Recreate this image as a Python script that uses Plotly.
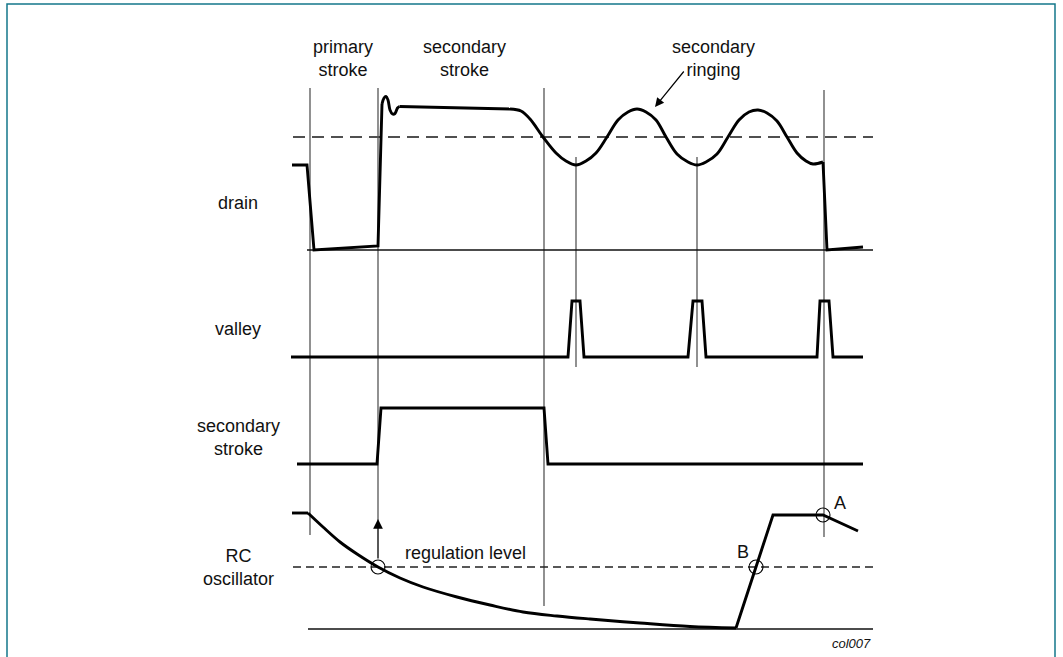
import plotly.graph_objects as go

# ---------------- data (diagram units: horizontal time, vertical level; screen-like) ----------------
# drain waveform pieces
drain_t_fall = [292, 307, 314, 378, 382]
drain_v_fall = [165, 165, 250, 246, 104]
drain_t_over = [382, 384, 386, 388, 390, 392.5, 395, 397.5, 399.5]
drain_v_over = [104, 98, 96.5, 100, 110, 114, 113.5, 108, 106.5]
drain_t_flat = [399.5, 510]
drain_v_flat = [106.5, 109]
drain_t_ring = [510, 521, 530, 543, 556, 566, 576, 586, 596, 607, 618, 628, 637, 646, 656,
                666, 677, 688, 697, 706, 717, 728, 739, 749, 758, 767, 777, 787, 797, 806,
                813, 823]
drain_v_ring = [109, 111, 119, 137, 153, 161, 165, 161, 153, 137, 120, 112, 109, 112, 120,
                137, 154, 162, 165, 162, 154, 137, 120, 112, 110, 113, 121, 137, 153, 161,
                164, 162]
drain_t_end = [823, 827, 863]
drain_v_end = [162, 250, 247]

# valley detector pulses
valley_t = [291, 568, 572, 580, 584, 688, 693, 702, 706, 817, 820, 829, 833, 863]
valley_v = [357, 357, 301, 301, 357, 357, 301, 301, 357, 357, 301, 301, 357, 357]

# secondary stroke signal
sec_t = [297, 377, 381, 544, 548, 863]
sec_v = [464, 464, 408, 408, 464, 464]

# RC oscillator
rc_t_hold = [292, 308]
rc_v_hold = [513, 513]
rc_t_decay = [308, 323, 340, 357, 378, 400, 423, 457, 490, 523, 557, 590, 640, 690, 736]
rc_v_decay = [513, 527, 542, 554, 567, 578, 587, 597, 605, 612, 616, 619, 623, 626.5, 628]
rc_t_charge = [736, 773, 823, 858]
rc_v_charge = [628, 515, 515, 531]

# reference levels
drain_threshold = 137
drain_zero = 250
regulation_level = 567
rc_zero = 629
level_start = 293
level_end = 873

# time markers (vertical cursor lines)
cursor_t = [310, 378, 544, 576, 697, 824]
cursor_top = [88, 88, 88, 157, 157, 90]
cursor_bottom = [535, 522, 606, 367, 367, 537]

# event circles
event_t = [378, 756, 823]
event_v = [567, 567, 515]

# labels
row_labels = ["drain", "valley", "secondary<br>stroke", "RC<br>oscillator"]
row_label_v = [203, 329, 437, 567]
top_labels = ["primary<br>stroke", "secondary<br>stroke", "secondary<br>ringing"]
top_label_t = [343, 464, 713]

# ---------------- figure ----------------
fig = go.Figure()
BLACK = "#000000"
W = 2.9


def line(x, y, shape="linear", width=W, color=BLACK, dash=None):
    fig.add_trace(go.Scatter(
        x=x, y=y, mode="lines", hoverinfo="skip", showlegend=False,
        line=dict(color=color, width=width, shape=shape, dash=dash, smoothing=1.0)))


# cursor lines
cx, cy = [], []
for t, a, b in zip(cursor_t, cursor_top, cursor_bottom):
    cx += [t, t, None]
    cy += [a, b, None]
line(cx, cy, width=1.3, color="#555555")

# reference levels
line([level_start, level_end], [drain_threshold, drain_threshold], width=1.8,
     color="#505050", dash="12px,7px")
line([307, level_end], [drain_zero, drain_zero], width=1.3, color="#111111")
line([level_start, level_end], [regulation_level, regulation_level], width=1.3,
     color="#222222", dash="8px,5px")
line([308, level_end], [rc_zero, rc_zero], width=1.3, color="#111111")

# waveforms
line(drain_t_fall, drain_v_fall)
line(drain_t_over, drain_v_over, shape="spline")
line(drain_t_flat, drain_v_flat)
line(drain_t_ring, drain_v_ring, shape="spline")
line(drain_t_end, drain_v_end)
line(valley_t, valley_v)
line(sec_t, sec_v)
line(rc_t_hold, rc_v_hold)
line(rc_t_decay, rc_v_decay, shape="spline")
line(rc_t_charge, rc_v_charge)

# event circles
fig.add_trace(go.Scatter(
    x=event_t, y=event_v, mode="markers", hoverinfo="skip", showlegend=False,
    marker=dict(symbol="circle-open", size=14, color=BLACK, line=dict(width=1.1))))

FONT = "Liberation Sans, Arial, Helvetica, sans-serif"
TXT = "#111111"
FS = 18

for lab, v in zip(row_labels, row_label_v):
    fig.add_annotation(x=238, y=v, text=lab, showarrow=False, xanchor="center",
                       yanchor="middle", font=dict(family=FONT, size=FS, color=TXT))
for lab, t in zip(top_labels, top_label_t):
    fig.add_annotation(x=t, y=58, text=lab, showarrow=False, xanchor="center",
                       yanchor="middle", font=dict(family=FONT, size=FS, color=TXT))

fig.add_annotation(x=465, y=553, text="regulation level", showarrow=False,
                   xanchor="center", yanchor="middle",
                   font=dict(family=FONT, size=FS, color=TXT))
fig.add_annotation(x=743, y=552, text="B", showarrow=False, xanchor="center",
                   yanchor="middle", font=dict(family=FONT, size=FS, color=TXT))
fig.add_annotation(x=840, y=503, text="A", showarrow=False, xanchor="center",
                   yanchor="middle", font=dict(family=FONT, size=FS, color=TXT))
fig.add_annotation(x=873, y=643, text="<i>col007</i>", showarrow=False,
                   xanchor="right", yanchor="middle",
                   font=dict(family=FONT, size=13, color=TXT))

# arrows
fig.add_annotation(x=655, y=107, ax=685, ay=70, axref="x", ayref="y", xref="x", yref="y",
                   text="", showarrow=True, arrowhead=2, arrowsize=1.5, arrowwidth=1.2,
                   arrowcolor=BLACK, standoff=0, startstandoff=0)
fig.add_annotation(x=378, y=519, ax=378, ay=560, axref="x", ayref="y", xref="x", yref="y",
                   text="", showarrow=True, arrowhead=2, arrowsize=1.5, arrowwidth=1.3,
                   arrowcolor=BLACK, standoff=0, startstandoff=0)

# frame
fig.add_shape(type="rect", x0=7, x1=1055, y0=4, y1=720, xref="x", yref="y",
              line=dict(color="#13778a", width=1.5), fillcolor="rgba(0,0,0,0)", layer="below")

fig.update_layout(
    width=1063, height=657, margin=dict(l=0, r=0, t=0, b=0),
    paper_bgcolor="white", plot_bgcolor="white",
    xaxis=dict(range=[0, 1063], visible=False, fixedrange=True),
    yaxis=dict(range=[657, 0], visible=False, fixedrange=True),
)

fig.write_html("out.html", config={"displayModeBar": False},
               post_script="document.body.style.margin='0';document.body.style.overflow='hidden';")
